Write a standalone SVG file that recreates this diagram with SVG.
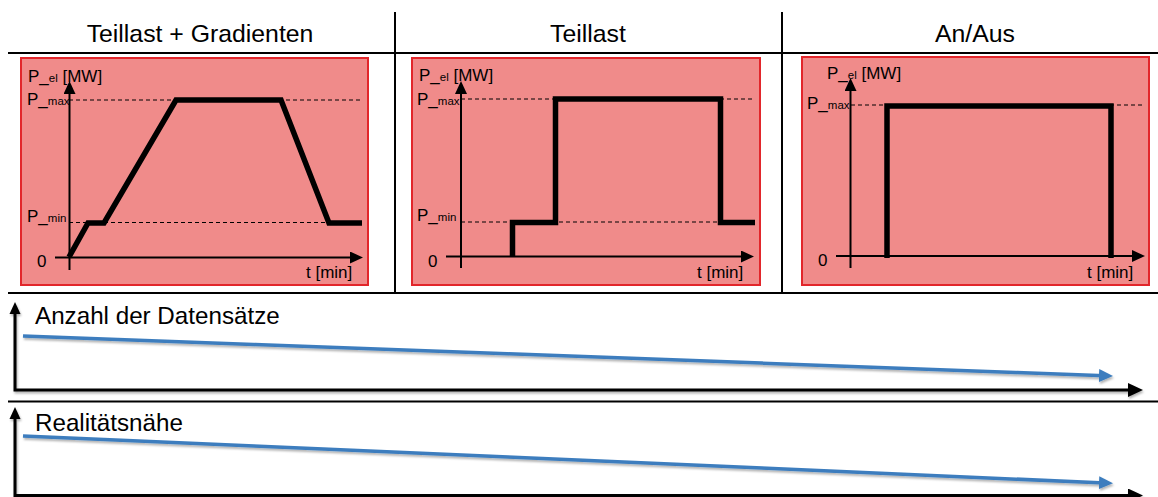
<svg xmlns="http://www.w3.org/2000/svg" width="1158" height="497" viewBox="0 0 1158 497">
<defs>
<style>
text{font-family:"Liberation Sans",Arial,sans-serif;fill:#000}
.title{font-size:24.8px;text-anchor:middle}
.lbl{font-size:17px}
.sub{font-size:11.5px}
.big{font-size:24.2px}
.frame{fill:#F08B8A;stroke:#E2262B;stroke-width:2}
.sep{stroke:#000;stroke-width:2;fill:none}
.axis{stroke:#000;stroke-width:2;fill:none}
.dash{stroke:#000;stroke-width:1;stroke-dasharray:4 3;fill:none}
.prof{stroke:#000;stroke-width:5.5;fill:none;stroke-linejoin:miter;stroke-linecap:butt}
.baxis{stroke:#000;stroke-width:3;fill:none}
.blue{stroke:#3C7DBE;stroke-width:3.5;fill:none}
</style>
<marker id="ah" markerUnits="userSpaceOnUse" markerWidth="13" markerHeight="12" refX="5" refY="6" orient="auto">
<path d="M0,0 L13,6 L0,12 z" fill="#000"/>
</marker>
<marker id="ahb" markerUnits="userSpaceOnUse" markerWidth="15" markerHeight="14" refX="6" refY="7" orient="auto">
<path d="M0,0 L15,7 L0,14 z" fill="#000"/>
</marker>
<marker id="ahblue" markerUnits="userSpaceOnUse" markerWidth="14" markerHeight="13" refX="6" refY="6.5" orient="auto">
<path d="M0,0 L14,6.5 L0,13 z" fill="#3C7DBE"/>
</marker>
<filter id="sh" x="-5%" y="-50%" width="110%" height="200%">
<feDropShadow dx="1" dy="2" stdDeviation="1.2" flood-color="#000" flood-opacity="0.3"/>
</filter>
</defs>
<rect width="1158" height="497" fill="#fff"/>

<g id="grid">
<line class="sep" x1="8" y1="53" x2="1158" y2="53"/>
<line class="sep" x1="8" y1="293" x2="1158" y2="293"/>
<line class="sep" x1="395" y1="12" x2="395" y2="294"/>
<line class="sep" x1="782" y1="12" x2="782" y2="294"/>
<line class="sep" x1="8" y1="401.5" x2="1158" y2="401.5"/>
</g>

<g id="titles">
<text class="title" x="200" y="41.5">Teillast + Gradienten</text>
<text class="title" x="588" y="41.5">Teillast</text>
<text class="title" x="975" y="41.5">An/Aus</text>
</g>

<g id="panel1">
<rect class="frame" x="21" y="58" width="347" height="227"/>
<line class="dash" x1="69" y1="100" x2="360" y2="100"/>
<line class="dash" x1="69" y1="222.5" x2="360" y2="222.5"/>
<line class="axis" x1="69.5" y1="270" x2="69.5" y2="89" marker-end="url(#ah)"/>
<line class="axis" x1="55" y1="257.5" x2="355" y2="257.5" marker-end="url(#ah)"/>
<polyline class="prof" points="69,257 88,223 104,223 176,100 281,100 329,223 362,223"/>
<text class="lbl" x="28" y="81.5">P_<tspan class="sub">el</tspan> [MW]</text>
<text class="lbl" x="27" y="105">P_<tspan class="sub">max</tspan></text>
<text class="lbl" x="27" y="221.5">P_<tspan class="sub">min</tspan></text>
<text class="lbl" x="37" y="267">0</text>
<text class="lbl" x="306" y="278">t [min]</text>
</g>

<g id="panel2">
<rect class="frame" x="412" y="58" width="348" height="227"/>
<line class="dash" x1="461" y1="99" x2="752" y2="99"/>
<line class="dash" x1="461" y1="222" x2="752" y2="222"/>
<line class="axis" x1="461" y1="268" x2="461" y2="89" marker-end="url(#ah)"/>
<line class="axis" x1="446" y1="256.5" x2="746" y2="256.5" marker-end="url(#ah)"/>
<polyline class="prof" points="512.5,257 512.5,222.5 555.5,222.5 555.5,99 720.5,99 720.5,222.5 755,222.5"/>
<text class="lbl" x="419" y="81">P_<tspan class="sub">el</tspan> [MW]</text>
<text class="lbl" x="417" y="104.5">P_<tspan class="sub">max</tspan></text>
<text class="lbl" x="417" y="220.5">P_<tspan class="sub">min</tspan></text>
<text class="lbl" x="428" y="267">0</text>
<text class="lbl" x="697" y="278">t [min]</text>
</g>

<g id="panel3">
<rect class="frame" x="802" y="57" width="347" height="228"/>
<line class="dash" x1="851" y1="105" x2="1142" y2="105"/>
<line class="axis" x1="850.5" y1="268" x2="850.5" y2="86" marker-end="url(#ah)"/>
<line class="axis" x1="836" y1="256" x2="1137" y2="256" marker-end="url(#ah)"/>
<polyline class="prof" points="887,258 887,106 1111,106 1111,258"/>
<text class="lbl" x="827" y="78.5">P_<tspan class="sub">el</tspan> [MW]</text>
<text class="lbl" x="807" y="108.5">P_<tspan class="sub">max</tspan></text>
<text class="lbl" x="818" y="266">0</text>
<text class="lbl" x="1087" y="277.5">t [min]</text>
</g>

<g id="scale-datensaetze">
<text class="big" x="35" y="323.5">Anzahl der Datensätze</text>
</g>
<g id="scale-realitaet">
<text class="big" x="35" y="431">Realitätsnähe</text>
</g>

<g id="connectors" filter="url(#sh)">
<polyline class="baxis" points="15,310 15,390 1134,390" marker-end="url(#ahb)"/>
<polyline class="baxis" points="15,415 15,495.5 1134,495.5" marker-end="url(#ahb)"/>
<line class="blue" x1="23" y1="336" x2="1105" y2="375.7" marker-end="url(#ahblue)"/>
<line class="blue" x1="23" y1="436" x2="1105" y2="483" marker-end="url(#ahblue)"/>
<path d="M9.5,314 L15,302 L20.5,314 z" fill="#000"/>
<path d="M9.5,419 L15,407 L20.5,419 z" fill="#000"/>
</g>
</svg>
